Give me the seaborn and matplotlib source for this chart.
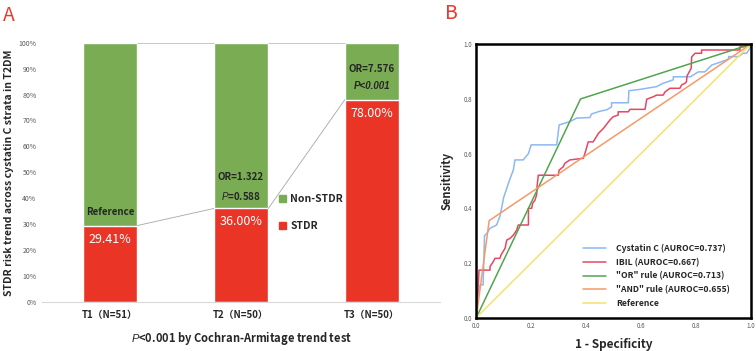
import numpy as np
import pandas as pd
import seaborn as sns
import matplotlib.pyplot as plt
from matplotlib.patches import Patch

# panel A data
groups = ["T1（N=51）", "T2（N=50）", "T3（N=50）"]
stdr_pct = [29.41, 36.00, 78.00]
or_text = ["Reference", "OR=1.322", "OR=7.576"]
p_text = [None, "$\\mathit{P}$=0.588", "P<0.001"]

# panel B data (ROC vertices)
cys_fpr = [0, 0.005, 0.014, 0.025, 0.03, 0.04, 0.05, 0.074, 0.086, 0.1, 0.105, 0.12, 0.135, 0.141, 0.171,
           0.19, 0.2, 0.293, 0.302, 0.341, 0.366, 0.414, 0.42, 0.45, 0.475, 0.493, 0.493, 0.554, 0.556,
           0.597, 0.657, 0.68, 0.718, 0.718, 0.78, 0.809, 0.833, 0.858, 0.876, 0.918, 0.92, 0.955, 0.973,
           0.985, 1.0, 1.0]
cys_tpr = [0, 0.077, 0.12, 0.12, 0.30, 0.31, 0.327, 0.339, 0.37, 0.44, 0.455, 0.50, 0.54, 0.577, 0.577,
           0.60, 0.632, 0.632, 0.705, 0.717, 0.73, 0.732, 0.745, 0.755, 0.76, 0.771, 0.786, 0.786, 0.83,
           0.835, 0.845, 0.857, 0.87, 0.881, 0.881, 0.899, 0.899, 0.924, 0.93, 0.945, 0.955, 0.955, 0.967,
           0.967, 0.99, 1.0]
ibil_fpr = [0, 0.005, 0.01, 0.05, 0.05, 0.062, 0.068, 0.086, 0.09, 0.105, 0.111, 0.123, 0.135, 0.147,
            0.153, 0.19, 0.19, 0.202, 0.205, 0.214, 0.22, 0.222, 0.226, 0.299, 0.302, 0.317, 0.323, 0.341,
            0.39, 0.396, 0.408, 0.426, 0.445, 0.463, 0.487, 0.499, 0.517, 0.517, 0.554, 0.56, 0.615, 0.621,
            0.645, 0.657, 0.681, 0.688, 0.706, 0.742, 0.748, 0.76, 0.766, 0.768, 0.783, 0.785, 0.797, 0.821,
            0.821, 0.961, 0.961, 0.99, 1.0]
ibil_tpr = [0, 0.08, 0.174, 0.174, 0.187, 0.205, 0.217, 0.217, 0.229, 0.254, 0.284, 0.29, 0.302, 0.32,
            0.339, 0.339, 0.40, 0.40, 0.418, 0.43, 0.45, 0.485, 0.521, 0.521, 0.54, 0.552, 0.565, 0.577,
            0.583, 0.601, 0.643, 0.643, 0.674, 0.692, 0.723, 0.735, 0.741, 0.753, 0.753, 0.762, 0.762, 0.799,
            0.808, 0.814, 0.814, 0.826, 0.839, 0.839, 0.851, 0.857, 0.863, 0.884, 0.912, 0.954, 0.967, 0.967,
            0.979, 0.979, 0.991, 0.991, 1.0]
or_fpr = [0, 0.38, 1.0]
or_tpr = [0, 0.80, 1.0]
and_fpr = [0, 0.047, 1.0]
and_tpr = [0, 0.355, 1.0]
ref_fpr = [0, 1.0]
ref_tpr = [0, 1.0]
roc_names = ["Cystatin C (AUROC=0.737)", "IBIL (AUROC=0.667)", "\"OR\" rule (AUROC=0.713)",
             "\"AND\" rule (AUROC=0.655)", "Reference"]

green = "#79AC53"
red = "#EA3526"
roc_colors = ["#8DB8F2", "#E64662", "#52A44F", "#F5996A", "#F2E36C"]
ink = "#262626"

sns.set_theme(style="white")
plt.rcParams['font.family'] = ['Noto Sans CJK SC', 'DejaVu Sans']
plt.rcParams['mathtext.fontset'] = 'custom'
plt.rcParams['mathtext.it'] = 'Liberation Sans:italic'
plt.rcParams['mathtext.rm'] = 'Liberation Sans'
plt.rcParams['mathtext.bf'] = 'Liberation Sans:bold'

fig = plt.figure(figsize=(7.56, 3.51), dpi=100)
axA = fig.add_axes([0.0556, 0.1405, 0.5265, 0.7375])
axB = fig.add_axes([0.630, 0.0949, 0.363, 0.779])

# ---------- panel A ----------
bw = 0.416
dfA = pd.DataFrame({"group": groups, "stdr": stdr_pct, "total": [100.0] * len(groups)})
sns.barplot(data=dfA, x="group", y="total", color=green, saturation=1, width=bw, ax=axA)
sns.barplot(data=dfA, x="group", y="stdr", color=red, saturation=1, width=bw, ax=axA)

# series lines between bars
for i in range(len(groups) - 1):
    axA.plot([i + bw / 2, i + 1 - bw / 2], [stdr_pct[i], stdr_pct[i + 1]], color="#A6A6A6", lw=0.6)
    axA.plot([i + bw / 2, i + 1 - bw / 2], [100, 100], color="#BFBFBF", lw=0.6, clip_on=False)

for i, v in enumerate(stdr_pct):
    axA.text(i, v - 5.2, f"{v:.2f}%", color="white", ha="center", va="center", fontsize=9)
    if p_text[i] is None:
        axA.text(i, v + 5.3, or_text[i], color=ink, ha="center", va="center", fontsize=7, fontweight="bold")
    else:
        axA.text(i, v + 12, or_text[i], color=ink, ha="center", va="center", fontsize=7, fontweight="bold")
        if p_text[i].startswith("$"):
            axA.text(i, v + 4.9, p_text[i], color=ink, ha="center", va="center", fontsize=7, fontweight="bold")
        else:
            axA.text(i, v + 5.3, p_text[i], color=ink, ha="center", va="center", fontsize=7,
                     family="Liberation Sans", style="italic", fontweight="bold")

axA.set_xlim(-0.52, 2.52)
axA.set_ylim(0, 100)
axA.set_yticks(range(0, 101, 10))
axA.set_yticklabels([f"{t}%" for t in range(0, 101, 10)], fontsize=5, color="#595959")
axA.tick_params(axis="x", labelsize=7, colors=ink, length=0, pad=6)
for t in axA.get_xticklabels():
    t.set_fontweight("bold")
axA.tick_params(axis="y", length=0, pad=4)
for s in ["left", "right", "top"]:
    axA.spines[s].set_visible(False)
axA.spines["bottom"].set_color("#D9D9D9")
axA.spines["bottom"].set_linewidth(0.8)
axA.set_xlabel("$\\mathit{P}$<0.001 by Cochran-Armitage trend test", fontsize=8, color=ink,
               fontweight="bold", labelpad=7)
axA.set_ylabel("STDR risk trend across cystatin C strata in T2DM", fontsize=7.5, color=ink,
               fontweight="bold")
axA.yaxis.set_label_coords(-0.07, 0.5)

legA = axA.legend(handles=[Patch(color=green, label="Non-STDR"), Patch(color=red, label="STDR")],
                  loc="upper left", bbox_to_anchor=(0.595, 0.415), frameon=False,
                  prop={"size": 7.5, "weight": "bold"},
                  handlelength=0.7, handleheight=0.7, handletextpad=0.4, labelspacing=1.6,
                  borderpad=0, borderaxespad=0)
for t in legA.get_texts():
    t.set_color(ink)

# ---------- panel B ----------
curves = [(cys_fpr, cys_tpr), (ibil_fpr, ibil_tpr), (or_fpr, or_tpr), (and_fpr, and_tpr), (ref_fpr, ref_tpr)]
rows = []
for name, (fx, ty) in zip(roc_names, curves):
    for a, b in zip(fx, ty):
        rows.append({"curve": name, "fpr": a, "tpr": b})
dfB = pd.DataFrame(rows)
sns.lineplot(data=dfB, x="fpr", y="tpr", hue="curve", hue_order=roc_names,
             palette=dict(zip(roc_names, roc_colors)), sort=False, estimator=None, lw=1.1, ax=axB)

ticks = np.arange(0, 1.01, 0.2)
axB.set_xlim(0, 1)
axB.set_ylim(0, 1)
axB.set_xticks(ticks)
axB.set_yticks(ticks)
axB.set_xticklabels([f"{t:.1f}" for t in ticks])
axB.set_yticklabels([f"{t:.1f}" for t in ticks])
axB.tick_params(labelsize=4.5, colors="#595959", length=1.5, width=0.5, pad=1.5)
for s in axB.spines.values():
    s.set_color("black")
    s.set_linewidth(1.8)
axB.set_xlabel("1 - Specificity", fontsize=8.5, fontweight="bold", color=ink, labelpad=6)
axB.set_ylabel("Sensitivity", fontsize=8, fontweight="bold", color=ink, labelpad=7)

legB = axB.legend(loc="lower left", bbox_to_anchor=(0.39, 0.035), frameon=False,
                  prop={"size": 6.2, "weight": "bold"},
                  handlelength=2.6, handletextpad=1.2, labelspacing=0.55, borderpad=0, borderaxespad=0)
for t in legB.get_texts():
    t.set_color(ink)

fig.text(0.004, 0.955, "A", color="#E8392A", fontsize=14, ha="left", va="center")
fig.text(0.588, 0.962, "B", color="#E8392A", fontsize=14, ha="left", va="center")

fig.savefig("out.png", dpi=100)
